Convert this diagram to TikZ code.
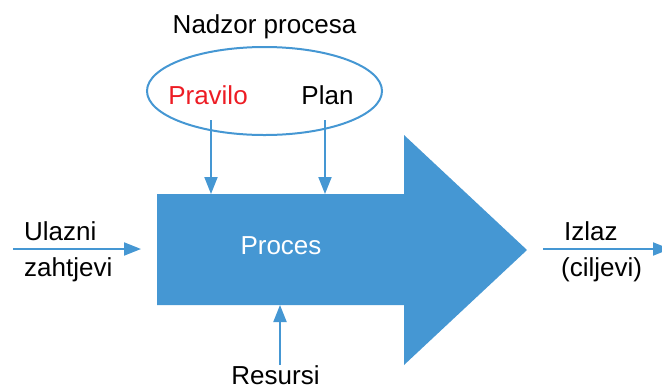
\documentclass[tikz,border=0pt]{standalone}
\usepackage{fontspec}
\setmainfont{Liberation Sans}
\usetikzlibrary{arrows.meta,shapes.geometric}
\definecolor{pblue}{HTML}{4597D3}
\definecolor{pred}{HTML}{ED1C24}
\begin{document}
\begin{tikzpicture}[x=1pt,y=-1pt,
  lbl/.style={font=\fontsize{26}{30}\selectfont, inner sep=0pt, anchor=base},
  conn/.style={draw=pblue, line width=2pt, -{Triangle[width=13pt,length=17pt]}},
]
\useasboundingbox (0,0) rectangle (662,384);
% process arrow shape
\fill[pblue] (157,194) -- (404,194) -- (404,135) -- (527,250) -- (404,365) -- (404,305) -- (157,305) -- cycle;
\coordinate (boxtopL) at (211,194);
\coordinate (boxtopR) at (325,194);
\coordinate (boxbot) at (280,305);
\coordinate (boxleft) at (141,249);
% ellipse
\node[draw=pblue, line width=2pt, ellipse, minimum width=235pt, minimum height=88pt, inner sep=0pt] (ctrl) at (264.5,91) {};
\node[lbl] (title) at (264.5,33) {Nadzor procesa};
\node[lbl, text=pred] (pravilo) at (208,104) {Pravilo};
\node[lbl] (plan) at (327.5,104) {Plan};
\coordinate (pravS) at (211,120);
\coordinate (planS) at (325,120);
\draw[conn] (pravS) -- (boxtopL);
\draw[conn] (planS) -- (boxtopR);
% process label
\node[lbl, text=white] (proces) at (281,254) {Proces};
% input
\node[lbl, anchor=base west] (ulazni) at (24,240) {Ulazni};
\node[lbl, anchor=base west] (zaht) at (24,276) {zahtjevi};
\coordinate (inS) at (13,249);
\draw[conn] (inS) -- (boxleft);
% output
\node[lbl, anchor=base west] (izlaz) at (564,240) {Izlaz};
\node[lbl, anchor=base west] (cilj) at (561,276) {(ciljevi)};
\coordinate (outS) at (543,249);
\coordinate (outE) at (670,249);
\draw[conn] (outS) -- (outE);
% resources
\node[lbl] (resursi) at (275.5,384) {Resursi};
\coordinate (resS) at (280,365);
\draw[conn] (resS) -- (boxbot);
\end{tikzpicture}
\end{document}
